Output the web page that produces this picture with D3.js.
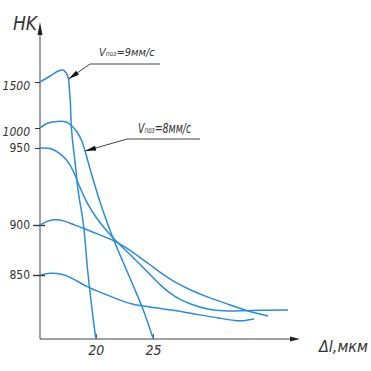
<!DOCTYPE html>
<html>
<head>
<meta charset="utf-8">
<script src="https://cdn.jsdelivr.net/npm/d3@7"></script>
<style>
  body { margin: 0; background: #fff; }
  text { font-family: "Liberation Sans Narrow", "DejaVu Sans Condensed", "Liberation Sans", sans-serif; fill: #333; }
  .curve { fill: none; stroke: #2a8ddb; stroke-width: 1.5; }
</style>
</head>
<body>
<div id="chart"></div>
<script>
/* HK vs Δl, schematic chart (y axis is not to scale) */

const width = 371, height = 371;

// tick labels
const yTicks = [850, 900, 950, 1000, 1500];
const xTicks = [20, 25];

// curves: [Δl, HK]
const v9 = [[15.1,1500],[16.0,1530],[16.7,1555],[17.1,1560],[17.4,1545],[17.6,1515],[17.65,1467],[17.75,1304],[17.85,1011],[17.95,970],[18.2,939],[18.45,922],[18.9,901],[19.3,852],[19.75,817],[20.0,800]];
const v8 = [[15.1,1000],[15.8,1054],[16.6,1071],[17.4,1065],[17.9,1022],[18.35,990],[18.8,965],[19.05,948],[19.66,932],[20.54,911],[21.5,887],[22.38,863],[23.26,842],[24.14,823],[25.0,801]];
const c950 = [[15.1,950],[16.0,951],[16.85,946.7],[17.47,942.2],[18.0,936],[18.6,924],[19.3,913],[20.0,905],[20.8,896],[21.5,887],[22.4,877],[23.3,867],[24.2,857],[25.0,848],[25.9,840],[26.9,833],[28.3,827],[29.8,823],[31.3,821.9],[32.6,821.9],[34.4,822.5],[36.85,822.7]];
const c900 = [[15.1,900],[15.71,902.6],[16.42,903.6],[17.03,903.2],[17.91,900.6],[18.87,897],[20.36,890],[21.5,885],[22.6,878],[23.7,869],[24.8,860],[25.8,851],[26.8,845],[28.26,838.3],[29.75,832.8],[31.77,826.6],[33.52,821.1],[35.1,818]];
const c850 = [[15.1,850],[15.98,852.3],[17.12,851],[17.91,847.7],[19.22,840.6],[20.36,836.7],[21.85,831.2],[23.26,826.6],[24.75,825],[26.77,822.7],[29.04,818.8],[30.8,816.4],[32.28,814.1],[32.98,814.1],[33.86,815.6]];

const svg = d3.select("#chart").append("svg")
    .attr("width", width).attr("height", height);

const x = d3.scaleLinear().domain([15.1, 37.9]).range([40, 300]);
// piecewise scale, the drawing is a sketch with uneven spacing
const y = d3.scaleLinear()
    .domain([800, 850, 900, 950, 1000, 1500, 1800])
    .range([339, 275, 225, 148, 128, 82, 22]);

// axes
svg.append("line").attr("x1", x(15.1)).attr("x2", x(37.9) - 6)
    .attr("y1", y(800)).attr("y2", y(800)).attr("stroke", "#444");
svg.append("path").attr("fill", "#222")
    .attr("d", `M${x(37.9)},${y(800)} l-10,-2.5 l0,5 z`);
svg.append("line").attr("x1", x(15.1)).attr("x2", x(15.1))
    .attr("y1", y(800)).attr("y2", y(1800) + 8).attr("stroke", "#444");
svg.append("path").attr("fill", "#222")
    .attr("d", `M${x(15.1)},${y(1800)} l-2.5,13 l5,0 z`);

const xAxis = svg.append("g")
    .attr("transform", `translate(0,${y(800)})`)
    .call(d3.axisBottom(x).tickValues(xTicks).tickSize(-5).tickSizeOuter(0).tickPadding(6));
xAxis.select(".domain").remove();
xAxis.selectAll("line").attr("stroke", "#444");
xAxis.selectAll("text").attr("font-size", 14).attr("font-style", "italic").attr("fill", "#333");

const yAxis = svg.append("g")
    .attr("transform", `translate(${x(15.1)},0)`)
    .call(d3.axisLeft(y).tickValues(yTicks).tickFormat(d3.format("d"))
        .tickSize(6).tickSizeOuter(0).tickPadding(4));
yAxis.select(".domain").remove();
yAxis.selectAll("line").attr("stroke", "#333").attr("x2", d => d <= 900 ? -7 : -5)
    .attr("x1", d => d <= 900 ? 5 : 0).attr("stroke-width", d => d <= 900 ? 1.4 : 1);
yAxis.selectAll("text").attr("font-size", 12)
    .attr("font-style", d => d >= 1000 ? "italic" : "normal")
    .attr("dy", d => d >= 1000 ? "0.6em" : "0.32em")
    .attr("fill", "#333");

// axis titles
svg.append("text").attr("x", 13).attr("y", 30)
    .attr("font-size", 19).attr("font-style", "italic").text("HK");
svg.append("text").attr("x", 319).attr("y", 352)
    .attr("font-size", 16).attr("font-style", "italic").text("Δl,мкм");

// curves
const line = d3.line().x(d => x(d[0])).y(d => y(d[1])).curve(d3.curveBasis);
const lineB = d3.line().x(d => x(d[0])).y(d => y(d[1])).curve(d3.curveCatmullRom.alpha(0.5));
[c950, c900, c850].forEach(s => svg.append("path").attr("class", "curve").attr("d", line(s)));
[v9, v8].forEach(s => svg.append("path").attr("class", "curve").attr("d", lineB(s)));

// leader labels
function leader(pt, elbow, endX, speed, size, tx, ty, sx) {
    const p = [x(pt[0]), y(pt[1])];
    svg.append("polyline").attr("fill", "none").attr("stroke", "#444")
        .attr("points", [[p[0], p[1]], elbow, [endX, elbow[1]]].map(d => d.join(",")).join(" "));
    const a = Math.atan2(elbow[1] - p[1], elbow[0] - p[0]) * 180 / Math.PI;
    svg.append("path").attr("fill", "#111")
        .attr("transform", `translate(${p[0]},${p[1]}) rotate(${a})`)
        .attr("d", "M0,0 L11,-2.5 L11,2.5 Z");
    svg.append("text").attr("transform", `translate(${tx},${ty}) scale(${sx},1)`)
        .attr("font-style", "italic").attr("font-size", size)
        .html(`V<tspan font-size="${size * 0.6}">поз</tspan>=${speed}мм/с`);
}
leader([17.6, 1515], [90, 64], 160, 9, 11, 99, 56, 1);
leader([19.05, 948], [127, 139], 200, 8, 14, 138, 133, 0.75);
</script>
</body>
</html>
